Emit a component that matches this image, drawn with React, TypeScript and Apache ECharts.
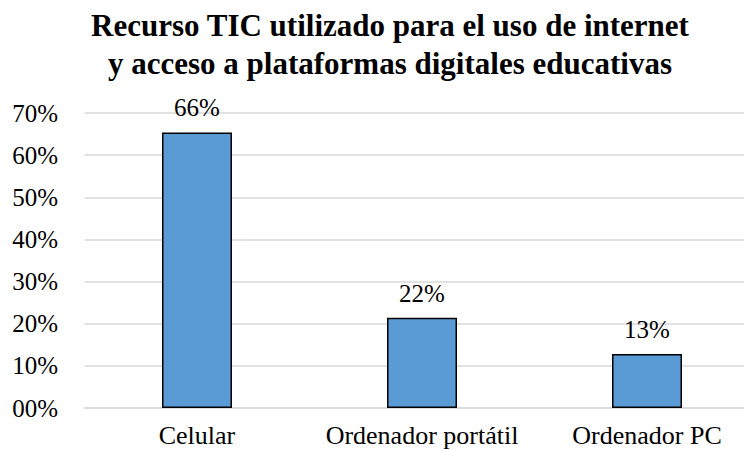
import React, { useEffect, useRef } from "react";
import * as echarts from "echarts";

const titleLines = [
  "Recurso TIC utilizado para el uso de internet",
  "y acceso a plataformas digitales educativas",
];
const categories = ["Celular", "Ordenador portátil", "Ordenador PC"];
const values = [0.654, 0.214, 0.128];
const barLabels = ["66%", "22%", "13%"];
const yTicks = [0, 0.1, 0.2, 0.3, 0.4, 0.5, 0.6, 0.7];

const FONT = "'Liberation Serif', 'Times New Roman', serif";

export default function App() {
  const ref = useRef<HTMLDivElement>(null);
  useEffect(() => {
    document.body.style.margin = "0";
    const chart = echarts.init(ref.current!, null, { renderer: "svg" });
    chart.setOption({
      animation: false,
      backgroundColor: "#ffffff",
      textStyle: { fontFamily: FONT },
      title: {
        text: titleLines.join("\n"),
        left: 390,
        textAlign: "center",
        top: 6.5,
        padding: 0,
        textStyle: {
          fontFamily: FONT,
          fontWeight: "bold",
          fontSize: 31,
          lineHeight: 38,
          color: "#000000",
        },
      },
      grid: { left: 84.5, top: 113, width: 675, height: 295, outerBoundsMode: "none", containLabel: false },
      xAxis: {
        type: "category",
        data: categories,
        axisTick: { show: false },
        axisLine: { lineStyle: { color: "#d9d9d9", width: 1.5 } },
        axisLabel: {
          fontFamily: FONT,
          fontSize: 26,
          lineHeight: 20,
          color: "#000000",
          margin: 17,
          interval: 0,
          hideOverlap: false,
        },
      },
      yAxis: {
        type: "value",
        min: yTicks[0],
        max: yTicks[yTicks.length - 1],
        interval: 0.1,
        axisLine: { show: false },
        axisTick: { show: false },
        splitLine: { lineStyle: { color: "#d9d9d9", width: 1.5 } },
        axisLabel: {
          fontFamily: FONT,
          fontSize: 25,
          color: "#000000",
          margin: 26.5,
          formatter: (v: number) => String(Math.round(v * 100)).padStart(2, "0") + "%",
        },
      },
      series: [
        {
          type: "bar",
          data: values,
          barWidth: 70,
          itemStyle: { color: "#5b9bd5", borderColor: "#000000", borderWidth: 1.5 },
          label: {
            show: true,
            position: "top",
            distance: 12,
            fontFamily: FONT,
            fontSize: 25,
            color: "#000000",
            formatter: (p: any) => barLabels[p.dataIndex],
          },
        },
      ],
    });
    return () => chart.dispose();
  }, []);
  return <div ref={ref} style={{ width: 744, height: 450 }} />;
}
